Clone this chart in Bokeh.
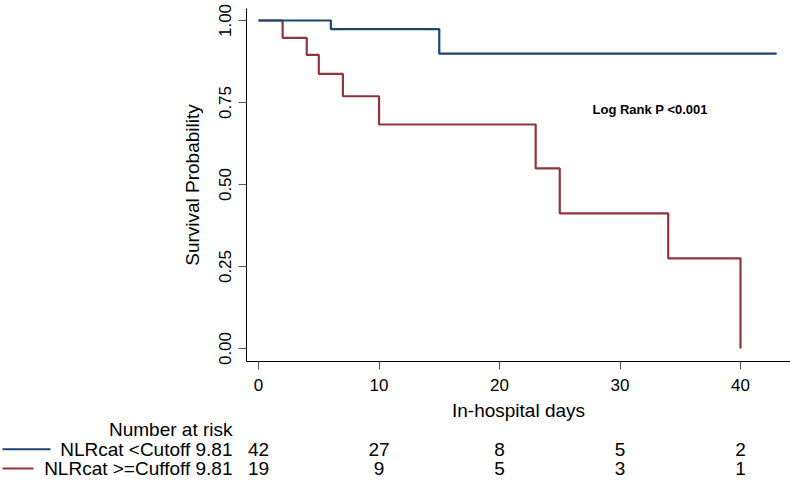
from bokeh.plotting import figure
from bokeh.models import Range1d, Label, FixedTicker
from bokeh.layouts import column
from bokeh.core.properties import value
from bokeh.embed import file_html
from bokeh.resources import INLINE

# ---- data ----
blue_times = [0, 6, 15, 43]
blue_surv = [1.0, 0.974, 0.899, 0.899]
red_times = [0, 2, 4, 5, 7, 10, 23, 25, 34, 40]
red_surv = [1.0, 0.947, 0.895, 0.837, 0.769, 0.683, 0.549, 0.412, 0.275, 0.0]

risk_times = [0, 10, 20, 30, 40]
risk_blue = [42, 27, 8, 5, 2]
risk_red = [19, 9, 5, 3, 1]

group_labels = ["NLRcat <Cutoff 9.81", "NLRcat >=Cuffoff 9.81"]
x_ticks = [0, 10, 20, 30, 40]
y_ticks = [0.0, 0.25, 0.5, 0.75, 1.0]
y_tick_labels = ["0.00", "0.25", "0.50", "0.75", "1.00"]

BLUE = "#1a476f"
RED = "#90353b"
FONT = "Liberation Sans"

W = 790
LEFT = 246
X_LO, X_HI = -1.0, 44.15
PPD = (W - LEFT) / (X_HI - X_LO)

p = figure(width=W, height=399, x_range=Range1d(X_LO, X_HI),
           y_range=Range1d(-0.0396, 1.0366),
           output_backend="svg", toolbar_location=None,
           min_border_left=LEFT, min_border_right=0,
           min_border_top=8, min_border_bottom=38)
p.frame_align = False
p.outline_line_color = None
p.xgrid.grid_line_color = None
p.ygrid.grid_line_color = None
p.background_fill_color = "white"
p.border_fill_color = "white"

p.step(red_times, red_surv, mode="after", line_color=RED, line_width=2.2)
p.step(blue_times, blue_surv, mode="after", line_color=BLUE, line_width=2.2)

for ax in (p.xaxis[0], p.yaxis[0]):
    ax.axis_line_color = "black"
    ax.axis_line_width = 1
    ax.major_tick_line_color = "#555555"
    ax.major_tick_out = 8
    ax.major_tick_in = 0
    ax.minor_tick_line_color = None
    ax.major_label_text_font = FONT
    ax.major_label_text_font_size = "17px"
    ax.major_label_text_color = "black"
    ax.axis_label_text_font = FONT
    ax.axis_label_text_font_size = "19px"
    ax.axis_label_text_font_style = "normal"
    ax.axis_label_text_color = "black"

p.xaxis.ticker = FixedTicker(ticks=x_ticks)
p.xaxis.major_label_standoff = 9
p.yaxis.ticker = FixedTicker(ticks=y_ticks)
p.yaxis.major_label_overrides = {t: l for t, l in zip(y_ticks, y_tick_labels)}
p.yaxis.major_label_orientation = "vertical"
p.yaxis.major_label_standoff = 7
p.yaxis.axis_label = "Survival Probability"
p.yaxis.axis_label_standoff = 14

p.add_layout(Label(x=32.5, y=0.73, text="Log Rank P <0.001",
                   text_font=FONT, text_font_style="bold",
                   text_font_size="13px", text_align="center",
                   text_baseline="middle", text_color="black"))

# ---- risk table ----
def px2day(px):
    # page x -> day value on the shared horizontal scale
    return X_LO + (px - LEFT) / PPD

T0 = X_LO - LEFT / PPD
tbl = figure(width=W, height=81, x_range=Range1d(T0, X_HI),
             y_range=Range1d(-0.621, 3.569),
             output_backend="svg", toolbar_location=None,
             x_axis_location=None, y_axis_location=None,
             min_border_left=0, min_border_right=0,
             min_border_top=0, min_border_bottom=0)
tbl.frame_align = False
tbl.outline_line_color = None
tbl.xgrid.grid_line_color = None
tbl.ygrid.grid_line_color = None

tbl.text(x=[(X_LO + X_HI) / 2], y=[3], text=["In-hospital days"],
         text_font=value(FONT), text_font_size="19px", text_align="center",
         text_baseline="middle", text_color="black")
tbl.text(x=[px2day(232)], y=[2], text=["Number at risk"],
         text_font=value(FONT), text_font_size="19px", text_align="right",
         text_baseline="middle", text_color="black")
tbl.text(x=[px2day(232)] * 2, y=[1, 0], text=group_labels,
         text_font=value(FONT), text_font_size="19px", text_align="right",
         text_baseline="middle", text_color="black")
tbl.segment(x0=[px2day(2), px2day(2)], y0=[1, 0], x1=[px2day(50), px2day(33)], y1=[1, 0],
            line_color=[BLUE, RED], line_width=2)
tbl.text(x=risk_times, y=[1] * len(risk_times), text=[str(v) for v in risk_blue],
         text_font=value(FONT), text_font_size="19px", text_align="center",
         text_baseline="middle", text_color="black")
tbl.text(x=risk_times, y=[0] * len(risk_times), text=[str(v) for v in risk_red],
         text_font=value(FONT), text_font_size="19px", text_align="center",
         text_baseline="middle", text_color="black")

layout = column(p, tbl, spacing=0)
open("out.html", "w").write(file_html(layout, INLINE))
